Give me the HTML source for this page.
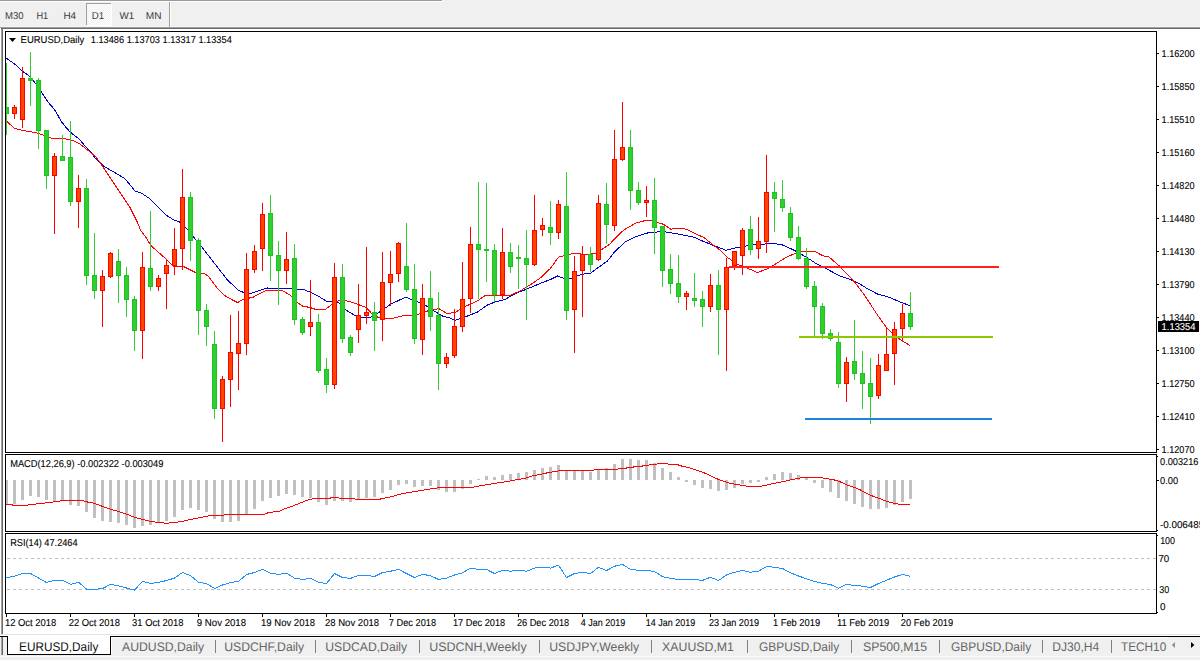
<!DOCTYPE html><html><head><meta charset="utf-8"><style>html,body{margin:0;padding:0;background:#f0f0f0;overflow:hidden;}svg{display:block;}text{text-rendering:geometricPrecision;}</style></head><body><svg width="1200" height="660" viewBox="0 0 1200 660" shape-rendering="crispEdges" font-family='"Liberation Sans", sans-serif'>
<defs><clipPath id="cm"><rect x="6" y="32" width="1150" height="420"/></clipPath><clipPath id="cd"><rect x="6" y="455" width="1150" height="76"/></clipPath><clipPath id="cr"><rect x="6" y="534" width="1150" height="79"/></clipPath><pattern id="dith" width="2" height="2" patternUnits="userSpaceOnUse"><rect width="2" height="2" fill="#f0f0f0"/><rect width="1" height="1" fill="#ffffff"/><rect x="1" y="1" width="1" height="1" fill="#ffffff"/></pattern></defs>
<rect x="0" y="0" width="1200" height="660" fill="#f0f0f0"/>
<rect x="0" y="0" width="442" height="1" fill="#9a9a9a"/>
<rect x="0" y="1" width="443" height="1" fill="#ffffff"/>
<rect x="442" y="0" width="1" height="2" fill="#ffffff"/>
<rect x="0" y="26" width="1200" height="1" fill="#f5f5f5"/>
<rect x="86" y="3" width="26" height="23" fill="#ffffff"/>
<rect x="87" y="4" width="24" height="21" fill="url(#dith)"/>
<rect x="86" y="3" width="25" height="1" fill="#a0a0a0"/>
<rect x="86" y="3" width="1" height="22" fill="#a0a0a0"/>
<rect x="169" y="2" width="1" height="25" fill="#a0a0a0"/>
<rect x="170" y="2" width="1" height="25" fill="#ffffff"/>
<rect x="0" y="27" width="1200" height="1" fill="#a0a0a0"/>
<rect x="1" y="27" width="1" height="607" fill="#a0a0a0"/>
<rect x="1" y="28" width="1199" height="1" fill="#696969"/>
<rect x="2" y="28" width="1" height="606" fill="#696969"/>
<rect x="3" y="29" width="1197" height="605" fill="#ffffff"/>
<rect x="0" y="28" width="1" height="606" fill="#ffffff"/>
<polyline points="5.80,58.00 8.30,59.60 12.50,62.50 16.70,65.80 21.70,70.80 25.00,73.00 30.00,76.60 36.00,84.00 42.00,93.00 48.00,102.00 54.00,109.00 56.00,112.00 61.00,121.00 64.00,125.00 70.00,132.00 76.00,136.50 80.00,140.00 85.00,146.00 90.00,151.00 95.00,158.00 103.75,166.25 112.50,171.25 118.75,175.00 125.00,178.75 131.25,186.25 135.00,191.25 141.25,193.00 148.75,198.00 153.75,202.50 166.00,215.00 173.75,220.00 179.40,221.90 186.00,228.00 193.00,236.00 195.00,239.00 201.00,246.00 215.00,264.00 227.50,280.00 238.75,290.60 243.75,292.50 250.00,293.75 262.50,289.40 267.50,288.00 275.00,288.75 284.00,288.00 290.00,288.00 296.00,289.40 304.00,289.75 310.00,292.00 317.50,295.60 326.00,301.00 332.50,301.50 339.00,303.00 346.00,310.00 355.00,315.60 362.50,317.50 371.00,317.00 378.75,312.50 386.00,307.50 391.00,304.00 397.50,301.00 406.00,297.00 411.00,299.40 419.00,302.50 426.00,305.60 434.00,311.00 442.50,316.00 450.00,318.00 455.00,320.30 462.50,318.00 470.00,315.00 477.50,312.00 487.50,305.00 495.00,302.00 505.00,299.40 515.00,293.75 526.00,289.40 542.50,282.50 550.00,279.75 557.50,276.00 562.50,278.00 570.00,278.75 577.50,275.60 585.00,273.75 591.00,273.00 597.50,268.00 607.50,261.00 614.00,252.50 625.00,242.00 635.00,237.00 647.50,233.00 657.50,232.00 660.00,231.00 669.00,232.50 680.00,234.40 695.00,237.50 702.50,241.00 712.50,245.00 720.00,248.00 726.00,250.30 735.00,248.00 742.50,247.00 749.00,245.00 755.00,244.40 762.50,244.40 770.00,243.40 776.00,243.75 782.50,245.00 791.00,248.75 797.50,252.00 806.00,257.00 817.50,264.40 827.50,269.40 840.00,276.00 850.00,279.40 857.50,282.50 867.50,288.75 877.50,294.00 890.00,297.50 900.00,302.00 910.00,305.60" fill="none" stroke="#0000cd" stroke-width="1" clip-path="url(#cm)"/>
<polyline points="6.50,121.00 14.50,128.50 21.00,130.00 28.00,131.50 36.00,132.50 44.00,135.50 51.00,138.00 64.00,138.50 70.00,140.00 74.00,141.00 80.00,144.00 85.00,148.00 90.00,152.00 96.00,157.00 100.00,162.50 110.00,177.50 120.00,192.50 130.00,207.50 137.50,222.50 141.00,231.00 145.00,236.00 151.00,245.60 166.00,259.00 174.00,267.00 182.50,266.00 195.60,272.50 205.00,274.00 208.00,276.00 218.75,290.00 223.75,295.00 232.50,300.00 237.50,302.50 243.75,299.00 252.50,297.50 265.00,291.00 268.75,290.00 282.50,290.60 290.00,295.00 297.50,302.50 302.50,306.00 310.00,307.50 317.50,310.00 326.00,309.00 332.50,303.75 338.75,300.60 345.00,300.60 351.00,302.00 358.75,304.75 366.00,307.50 372.00,313.75 377.50,317.00 385.00,318.50 393.75,318.00 405.00,315.40 411.00,315.40 420.00,313.75 427.50,311.00 434.00,309.40 439.00,308.75 447.50,313.75 456.00,312.00 462.50,307.50 470.00,304.40 478.75,300.00 486.00,295.00 494.00,296.00 502.50,295.00 509.00,296.00 520.00,291.00 530.00,285.00 541.00,277.50 550.00,268.75 558.75,257.00 565.00,255.60 572.50,253.50 579.00,253.50 585.00,255.00 596.00,253.00 601.00,250.00 610.00,244.00 612.50,241.00 623.75,230.00 636.00,223.00 645.00,220.60 650.00,220.50 657.50,222.50 663.75,224.40 671.00,229.40 675.00,228.00 682.50,228.40 687.50,229.75 696.00,234.00 704.00,237.50 712.50,244.40 721.00,251.00 727.50,257.50 737.50,264.40 748.75,268.75 757.50,272.50 767.50,268.75 775.00,264.40 785.00,258.00 796.00,253.00 802.50,251.50 815.00,251.50 822.50,255.60 829.00,257.00 839.00,265.60 847.50,274.40 855.00,282.50 865.00,296.00 877.50,315.00 886.00,327.00 892.50,333.75 899.00,338.75 902.50,341.00 910.00,345.60" fill="none" stroke="#ff0000" stroke-width="1" clip-path="url(#cm)"/>
<g clip-path="url(#cm)">
<rect x="6" y="63" width="1" height="72" fill="#32cd32"/>
<rect x="4" y="107" width="5" height="7" fill="#1ec41e"/>
<rect x="5" y="108" width="3" height="5" fill="#32cd32"/>
<rect x="14" y="105" width="1" height="14" fill="#ff0000"/>
<rect x="12" y="107" width="5" height="7" fill="#ff0000"/>
<rect x="13" y="108" width="3" height="5" fill="#ff4500"/>
<rect x="22" y="67" width="1" height="61" fill="#ff0000"/>
<rect x="20" y="78" width="5" height="42" fill="#ff0000"/>
<rect x="21" y="79" width="3" height="40" fill="#ff4500"/>
<rect x="30" y="52" width="1" height="54" fill="#32cd32"/>
<rect x="28" y="78" width="5" height="3" fill="#1ec41e"/>
<rect x="29" y="79" width="3" height="1" fill="#32cd32"/>
<rect x="38" y="78" width="1" height="71" fill="#32cd32"/>
<rect x="36" y="80" width="5" height="51" fill="#1ec41e"/>
<rect x="37" y="81" width="3" height="49" fill="#32cd32"/>
<rect x="46" y="130" width="1" height="59" fill="#32cd32"/>
<rect x="44" y="130" width="5" height="46" fill="#1ec41e"/>
<rect x="45" y="131" width="3" height="44" fill="#32cd32"/>
<rect x="54" y="153" width="1" height="81" fill="#ff0000"/>
<rect x="52" y="156" width="5" height="20" fill="#ff0000"/>
<rect x="53" y="157" width="3" height="18" fill="#ff4500"/>
<rect x="62" y="135" width="1" height="26" fill="#32cd32"/>
<rect x="60" y="156" width="5" height="5" fill="#1ec41e"/>
<rect x="61" y="157" width="3" height="3" fill="#32cd32"/>
<rect x="70" y="121" width="1" height="85" fill="#32cd32"/>
<rect x="68" y="157" width="5" height="45" fill="#1ec41e"/>
<rect x="69" y="158" width="3" height="43" fill="#32cd32"/>
<rect x="78" y="175" width="1" height="53" fill="#ff0000"/>
<rect x="76" y="188" width="5" height="14" fill="#ff0000"/>
<rect x="77" y="189" width="3" height="12" fill="#ff4500"/>
<rect x="86" y="179" width="1" height="106" fill="#32cd32"/>
<rect x="84" y="188" width="5" height="88" fill="#1ec41e"/>
<rect x="85" y="189" width="3" height="86" fill="#32cd32"/>
<rect x="94" y="233" width="1" height="66" fill="#32cd32"/>
<rect x="92" y="275" width="5" height="16" fill="#1ec41e"/>
<rect x="93" y="276" width="3" height="14" fill="#32cd32"/>
<rect x="102" y="270" width="1" height="57" fill="#ff0000"/>
<rect x="100" y="276" width="5" height="15" fill="#ff0000"/>
<rect x="101" y="277" width="3" height="13" fill="#ff4500"/>
<rect x="110" y="252" width="1" height="26" fill="#ff0000"/>
<rect x="108" y="253" width="5" height="24" fill="#ff0000"/>
<rect x="109" y="254" width="3" height="22" fill="#ff4500"/>
<rect x="118" y="249" width="1" height="54" fill="#32cd32"/>
<rect x="116" y="261" width="5" height="15" fill="#1ec41e"/>
<rect x="117" y="262" width="3" height="13" fill="#32cd32"/>
<rect x="126" y="267" width="1" height="50" fill="#32cd32"/>
<rect x="124" y="275" width="5" height="25" fill="#1ec41e"/>
<rect x="125" y="276" width="3" height="23" fill="#32cd32"/>
<rect x="134" y="296" width="1" height="55" fill="#32cd32"/>
<rect x="132" y="299" width="5" height="32" fill="#1ec41e"/>
<rect x="133" y="300" width="3" height="30" fill="#32cd32"/>
<rect x="142" y="252" width="1" height="107" fill="#ff0000"/>
<rect x="140" y="267" width="5" height="64" fill="#ff0000"/>
<rect x="141" y="268" width="3" height="62" fill="#ff4500"/>
<rect x="150" y="211" width="1" height="80" fill="#32cd32"/>
<rect x="148" y="268" width="5" height="19" fill="#1ec41e"/>
<rect x="149" y="269" width="3" height="17" fill="#32cd32"/>
<rect x="158" y="275" width="1" height="16" fill="#ff0000"/>
<rect x="156" y="278" width="5" height="9" fill="#ff0000"/>
<rect x="157" y="279" width="3" height="7" fill="#ff4500"/>
<rect x="166" y="259" width="1" height="50" fill="#ff0000"/>
<rect x="164" y="265" width="5" height="9" fill="#ff0000"/>
<rect x="165" y="266" width="3" height="7" fill="#ff4500"/>
<rect x="174" y="228" width="1" height="47" fill="#ff0000"/>
<rect x="172" y="249" width="5" height="17" fill="#ff0000"/>
<rect x="173" y="250" width="3" height="15" fill="#ff4500"/>
<rect x="182" y="169" width="1" height="101" fill="#ff0000"/>
<rect x="180" y="197" width="5" height="52" fill="#ff0000"/>
<rect x="181" y="198" width="3" height="50" fill="#ff4500"/>
<rect x="190" y="192" width="1" height="69" fill="#32cd32"/>
<rect x="188" y="197" width="5" height="44" fill="#1ec41e"/>
<rect x="189" y="198" width="3" height="42" fill="#32cd32"/>
<rect x="198" y="238" width="1" height="97" fill="#32cd32"/>
<rect x="196" y="240" width="5" height="71" fill="#1ec41e"/>
<rect x="197" y="241" width="3" height="69" fill="#32cd32"/>
<rect x="206" y="304" width="1" height="42" fill="#32cd32"/>
<rect x="204" y="310" width="5" height="17" fill="#1ec41e"/>
<rect x="205" y="311" width="3" height="15" fill="#32cd32"/>
<rect x="214" y="331" width="1" height="88" fill="#32cd32"/>
<rect x="212" y="344" width="5" height="65" fill="#1ec41e"/>
<rect x="213" y="345" width="3" height="63" fill="#32cd32"/>
<rect x="222" y="376" width="1" height="66" fill="#ff0000"/>
<rect x="220" y="379" width="5" height="30" fill="#ff0000"/>
<rect x="221" y="380" width="3" height="28" fill="#ff4500"/>
<rect x="230" y="315" width="1" height="92" fill="#ff0000"/>
<rect x="228" y="352" width="5" height="28" fill="#ff0000"/>
<rect x="229" y="353" width="3" height="26" fill="#ff4500"/>
<rect x="238" y="311" width="1" height="79" fill="#ff0000"/>
<rect x="236" y="343" width="5" height="11" fill="#ff0000"/>
<rect x="237" y="344" width="3" height="9" fill="#ff4500"/>
<rect x="246" y="253" width="1" height="102" fill="#ff0000"/>
<rect x="244" y="269" width="5" height="75" fill="#ff0000"/>
<rect x="245" y="270" width="3" height="73" fill="#ff4500"/>
<rect x="254" y="245" width="1" height="28" fill="#ff0000"/>
<rect x="252" y="251" width="5" height="19" fill="#ff0000"/>
<rect x="253" y="252" width="3" height="17" fill="#ff4500"/>
<rect x="262" y="203" width="1" height="68" fill="#ff0000"/>
<rect x="260" y="214" width="5" height="35" fill="#ff0000"/>
<rect x="261" y="215" width="3" height="33" fill="#ff4500"/>
<rect x="270" y="195" width="1" height="86" fill="#32cd32"/>
<rect x="268" y="213" width="5" height="43" fill="#1ec41e"/>
<rect x="269" y="214" width="3" height="41" fill="#32cd32"/>
<rect x="278" y="241" width="1" height="64" fill="#32cd32"/>
<rect x="276" y="255" width="5" height="16" fill="#1ec41e"/>
<rect x="277" y="256" width="3" height="14" fill="#32cd32"/>
<rect x="286" y="232" width="1" height="52" fill="#ff0000"/>
<rect x="284" y="259" width="5" height="12" fill="#ff0000"/>
<rect x="285" y="260" width="3" height="10" fill="#ff4500"/>
<rect x="294" y="244" width="1" height="81" fill="#32cd32"/>
<rect x="292" y="258" width="5" height="62" fill="#1ec41e"/>
<rect x="293" y="259" width="3" height="60" fill="#32cd32"/>
<rect x="302" y="317" width="1" height="18" fill="#32cd32"/>
<rect x="300" y="319" width="5" height="14" fill="#1ec41e"/>
<rect x="301" y="320" width="3" height="12" fill="#32cd32"/>
<rect x="310" y="280" width="1" height="56" fill="#ff0000"/>
<rect x="308" y="322" width="5" height="5" fill="#ff0000"/>
<rect x="309" y="323" width="3" height="3" fill="#ff4500"/>
<rect x="318" y="314" width="1" height="59" fill="#32cd32"/>
<rect x="316" y="322" width="5" height="49" fill="#1ec41e"/>
<rect x="317" y="323" width="3" height="47" fill="#32cd32"/>
<rect x="326" y="358" width="1" height="35" fill="#32cd32"/>
<rect x="324" y="369" width="5" height="16" fill="#1ec41e"/>
<rect x="325" y="370" width="3" height="14" fill="#32cd32"/>
<rect x="334" y="263" width="1" height="126" fill="#ff0000"/>
<rect x="332" y="277" width="5" height="108" fill="#ff0000"/>
<rect x="333" y="278" width="3" height="106" fill="#ff4500"/>
<rect x="342" y="264" width="1" height="79" fill="#32cd32"/>
<rect x="340" y="277" width="5" height="62" fill="#1ec41e"/>
<rect x="341" y="278" width="3" height="60" fill="#32cd32"/>
<rect x="350" y="335" width="1" height="21" fill="#32cd32"/>
<rect x="348" y="337" width="5" height="16" fill="#1ec41e"/>
<rect x="349" y="338" width="3" height="14" fill="#32cd32"/>
<rect x="358" y="284" width="1" height="59" fill="#ff0000"/>
<rect x="356" y="315" width="5" height="15" fill="#ff0000"/>
<rect x="357" y="316" width="3" height="13" fill="#ff4500"/>
<rect x="366" y="247" width="1" height="77" fill="#ff0000"/>
<rect x="364" y="312" width="5" height="4" fill="#ff0000"/>
<rect x="365" y="313" width="3" height="2" fill="#ff4500"/>
<rect x="374" y="302" width="1" height="49" fill="#32cd32"/>
<rect x="372" y="312" width="5" height="9" fill="#1ec41e"/>
<rect x="373" y="313" width="3" height="7" fill="#32cd32"/>
<rect x="382" y="252" width="1" height="89" fill="#ff0000"/>
<rect x="380" y="282" width="5" height="38" fill="#ff0000"/>
<rect x="381" y="283" width="3" height="36" fill="#ff4500"/>
<rect x="390" y="251" width="1" height="55" fill="#ff0000"/>
<rect x="388" y="274" width="5" height="9" fill="#ff0000"/>
<rect x="389" y="275" width="3" height="7" fill="#ff4500"/>
<rect x="398" y="242" width="1" height="40" fill="#ff0000"/>
<rect x="396" y="243" width="5" height="31" fill="#ff0000"/>
<rect x="397" y="244" width="3" height="29" fill="#ff4500"/>
<rect x="406" y="223" width="1" height="69" fill="#32cd32"/>
<rect x="404" y="266" width="5" height="24" fill="#1ec41e"/>
<rect x="405" y="267" width="3" height="22" fill="#32cd32"/>
<rect x="414" y="264" width="1" height="80" fill="#32cd32"/>
<rect x="412" y="289" width="5" height="50" fill="#1ec41e"/>
<rect x="413" y="290" width="3" height="48" fill="#32cd32"/>
<rect x="422" y="284" width="1" height="71" fill="#ff0000"/>
<rect x="420" y="298" width="5" height="42" fill="#ff0000"/>
<rect x="421" y="299" width="3" height="40" fill="#ff4500"/>
<rect x="430" y="271" width="1" height="60" fill="#32cd32"/>
<rect x="428" y="298" width="5" height="19" fill="#1ec41e"/>
<rect x="429" y="299" width="3" height="17" fill="#32cd32"/>
<rect x="438" y="292" width="1" height="98" fill="#32cd32"/>
<rect x="436" y="315" width="5" height="49" fill="#1ec41e"/>
<rect x="437" y="316" width="3" height="47" fill="#32cd32"/>
<rect x="446" y="353" width="1" height="15" fill="#ff0000"/>
<rect x="444" y="357" width="5" height="7" fill="#ff0000"/>
<rect x="445" y="358" width="3" height="5" fill="#ff4500"/>
<rect x="454" y="309" width="1" height="49" fill="#ff0000"/>
<rect x="452" y="326" width="5" height="30" fill="#ff0000"/>
<rect x="453" y="327" width="3" height="28" fill="#ff4500"/>
<rect x="462" y="262" width="1" height="70" fill="#ff0000"/>
<rect x="460" y="299" width="5" height="28" fill="#ff0000"/>
<rect x="461" y="300" width="3" height="26" fill="#ff4500"/>
<rect x="470" y="227" width="1" height="86" fill="#ff0000"/>
<rect x="468" y="244" width="5" height="55" fill="#ff0000"/>
<rect x="469" y="245" width="3" height="53" fill="#ff4500"/>
<rect x="478" y="182" width="1" height="117" fill="#32cd32"/>
<rect x="476" y="244" width="5" height="6" fill="#1ec41e"/>
<rect x="477" y="245" width="3" height="4" fill="#32cd32"/>
<rect x="486" y="183" width="1" height="99" fill="#32cd32"/>
<rect x="484" y="249" width="5" height="2" fill="#1ec41e"/>
<rect x="494" y="244" width="1" height="58" fill="#32cd32"/>
<rect x="492" y="250" width="5" height="45" fill="#1ec41e"/>
<rect x="493" y="251" width="3" height="43" fill="#32cd32"/>
<rect x="502" y="228" width="1" height="71" fill="#ff0000"/>
<rect x="500" y="252" width="5" height="43" fill="#ff0000"/>
<rect x="501" y="253" width="3" height="41" fill="#ff4500"/>
<rect x="510" y="243" width="1" height="30" fill="#32cd32"/>
<rect x="508" y="252" width="5" height="15" fill="#1ec41e"/>
<rect x="509" y="253" width="3" height="13" fill="#32cd32"/>
<rect x="518" y="245" width="1" height="44" fill="#32cd32"/>
<rect x="516" y="257" width="5" height="2" fill="#1ec41e"/>
<rect x="526" y="230" width="1" height="90" fill="#32cd32"/>
<rect x="524" y="258" width="5" height="7" fill="#1ec41e"/>
<rect x="525" y="259" width="3" height="5" fill="#32cd32"/>
<rect x="534" y="195" width="1" height="71" fill="#ff0000"/>
<rect x="532" y="230" width="5" height="35" fill="#ff0000"/>
<rect x="533" y="231" width="3" height="33" fill="#ff4500"/>
<rect x="542" y="218" width="1" height="18" fill="#ff0000"/>
<rect x="540" y="225" width="5" height="5" fill="#ff0000"/>
<rect x="541" y="226" width="3" height="3" fill="#ff4500"/>
<rect x="550" y="201" width="1" height="44" fill="#32cd32"/>
<rect x="548" y="227" width="5" height="6" fill="#1ec41e"/>
<rect x="549" y="228" width="3" height="4" fill="#32cd32"/>
<rect x="558" y="200" width="1" height="39" fill="#ff0000"/>
<rect x="556" y="204" width="5" height="29" fill="#ff0000"/>
<rect x="557" y="205" width="3" height="27" fill="#ff4500"/>
<rect x="566" y="172" width="1" height="148" fill="#32cd32"/>
<rect x="564" y="206" width="5" height="105" fill="#1ec41e"/>
<rect x="565" y="207" width="3" height="103" fill="#32cd32"/>
<rect x="574" y="256" width="1" height="97" fill="#ff0000"/>
<rect x="572" y="271" width="5" height="39" fill="#ff0000"/>
<rect x="573" y="272" width="3" height="37" fill="#ff4500"/>
<rect x="582" y="246" width="1" height="71" fill="#ff0000"/>
<rect x="580" y="254" width="5" height="17" fill="#ff0000"/>
<rect x="581" y="255" width="3" height="15" fill="#ff4500"/>
<rect x="590" y="247" width="1" height="25" fill="#32cd32"/>
<rect x="588" y="254" width="5" height="11" fill="#1ec41e"/>
<rect x="589" y="255" width="3" height="9" fill="#32cd32"/>
<rect x="598" y="195" width="1" height="66" fill="#ff0000"/>
<rect x="596" y="203" width="5" height="57" fill="#ff0000"/>
<rect x="597" y="204" width="3" height="55" fill="#ff4500"/>
<rect x="606" y="183" width="1" height="61" fill="#32cd32"/>
<rect x="604" y="204" width="5" height="21" fill="#1ec41e"/>
<rect x="605" y="205" width="3" height="19" fill="#32cd32"/>
<rect x="614" y="130" width="1" height="101" fill="#ff0000"/>
<rect x="612" y="159" width="5" height="67" fill="#ff0000"/>
<rect x="613" y="160" width="3" height="65" fill="#ff4500"/>
<rect x="622" y="102" width="1" height="59" fill="#ff0000"/>
<rect x="620" y="147" width="5" height="13" fill="#ff0000"/>
<rect x="621" y="148" width="3" height="11" fill="#ff4500"/>
<rect x="630" y="130" width="1" height="80" fill="#32cd32"/>
<rect x="628" y="147" width="5" height="44" fill="#1ec41e"/>
<rect x="629" y="148" width="3" height="42" fill="#32cd32"/>
<rect x="638" y="182" width="1" height="23" fill="#32cd32"/>
<rect x="636" y="190" width="5" height="13" fill="#1ec41e"/>
<rect x="637" y="191" width="3" height="11" fill="#32cd32"/>
<rect x="646" y="186" width="1" height="31" fill="#ff0000"/>
<rect x="644" y="200" width="5" height="3" fill="#ff0000"/>
<rect x="645" y="201" width="3" height="1" fill="#ff4500"/>
<rect x="654" y="178" width="1" height="76" fill="#32cd32"/>
<rect x="652" y="200" width="5" height="28" fill="#1ec41e"/>
<rect x="653" y="201" width="3" height="26" fill="#32cd32"/>
<rect x="662" y="226" width="1" height="61" fill="#32cd32"/>
<rect x="660" y="226" width="5" height="45" fill="#1ec41e"/>
<rect x="661" y="227" width="3" height="43" fill="#32cd32"/>
<rect x="670" y="254" width="1" height="40" fill="#32cd32"/>
<rect x="668" y="269" width="5" height="15" fill="#1ec41e"/>
<rect x="669" y="270" width="3" height="13" fill="#32cd32"/>
<rect x="678" y="255" width="1" height="48" fill="#32cd32"/>
<rect x="676" y="283" width="5" height="14" fill="#1ec41e"/>
<rect x="677" y="284" width="3" height="12" fill="#32cd32"/>
<rect x="686" y="291" width="1" height="19" fill="#ff0000"/>
<rect x="684" y="293" width="5" height="4" fill="#ff0000"/>
<rect x="685" y="294" width="3" height="2" fill="#ff4500"/>
<rect x="694" y="273" width="1" height="34" fill="#32cd32"/>
<rect x="692" y="298" width="5" height="3" fill="#1ec41e"/>
<rect x="693" y="299" width="3" height="1" fill="#32cd32"/>
<rect x="702" y="291" width="1" height="36" fill="#32cd32"/>
<rect x="700" y="299" width="5" height="8" fill="#1ec41e"/>
<rect x="701" y="300" width="3" height="6" fill="#32cd32"/>
<rect x="710" y="274" width="1" height="38" fill="#ff0000"/>
<rect x="708" y="285" width="5" height="22" fill="#ff0000"/>
<rect x="709" y="286" width="3" height="20" fill="#ff4500"/>
<rect x="718" y="270" width="1" height="85" fill="#32cd32"/>
<rect x="716" y="285" width="5" height="25" fill="#1ec41e"/>
<rect x="717" y="286" width="3" height="23" fill="#32cd32"/>
<rect x="726" y="258" width="1" height="113" fill="#ff0000"/>
<rect x="724" y="267" width="5" height="43" fill="#ff0000"/>
<rect x="725" y="268" width="3" height="41" fill="#ff4500"/>
<rect x="734" y="251" width="1" height="19" fill="#ff0000"/>
<rect x="732" y="251" width="5" height="15" fill="#ff0000"/>
<rect x="733" y="252" width="3" height="13" fill="#ff4500"/>
<rect x="742" y="228" width="1" height="47" fill="#ff0000"/>
<rect x="740" y="230" width="5" height="26" fill="#ff0000"/>
<rect x="741" y="231" width="3" height="24" fill="#ff4500"/>
<rect x="750" y="216" width="1" height="39" fill="#32cd32"/>
<rect x="748" y="229" width="5" height="21" fill="#1ec41e"/>
<rect x="749" y="230" width="3" height="19" fill="#32cd32"/>
<rect x="758" y="217" width="1" height="42" fill="#ff0000"/>
<rect x="756" y="241" width="5" height="8" fill="#ff0000"/>
<rect x="757" y="242" width="3" height="6" fill="#ff4500"/>
<rect x="766" y="155" width="1" height="98" fill="#ff0000"/>
<rect x="764" y="192" width="5" height="50" fill="#ff0000"/>
<rect x="765" y="193" width="3" height="48" fill="#ff4500"/>
<rect x="774" y="182" width="1" height="50" fill="#32cd32"/>
<rect x="772" y="192" width="5" height="7" fill="#1ec41e"/>
<rect x="773" y="193" width="3" height="5" fill="#32cd32"/>
<rect x="782" y="180" width="1" height="32" fill="#32cd32"/>
<rect x="780" y="199" width="5" height="9" fill="#1ec41e"/>
<rect x="781" y="200" width="3" height="7" fill="#32cd32"/>
<rect x="790" y="207" width="1" height="34" fill="#32cd32"/>
<rect x="788" y="213" width="5" height="25" fill="#1ec41e"/>
<rect x="789" y="214" width="3" height="23" fill="#32cd32"/>
<rect x="798" y="226" width="1" height="34" fill="#32cd32"/>
<rect x="796" y="237" width="5" height="22" fill="#1ec41e"/>
<rect x="797" y="238" width="3" height="20" fill="#32cd32"/>
<rect x="806" y="248" width="1" height="41" fill="#32cd32"/>
<rect x="804" y="258" width="5" height="29" fill="#1ec41e"/>
<rect x="805" y="259" width="3" height="27" fill="#32cd32"/>
<rect x="814" y="281" width="1" height="55" fill="#32cd32"/>
<rect x="812" y="286" width="5" height="21" fill="#1ec41e"/>
<rect x="813" y="287" width="3" height="19" fill="#32cd32"/>
<rect x="822" y="303" width="1" height="36" fill="#32cd32"/>
<rect x="820" y="306" width="5" height="28" fill="#1ec41e"/>
<rect x="821" y="307" width="3" height="26" fill="#32cd32"/>
<rect x="830" y="329" width="1" height="12" fill="#32cd32"/>
<rect x="828" y="333" width="5" height="6" fill="#1ec41e"/>
<rect x="829" y="334" width="3" height="4" fill="#32cd32"/>
<rect x="838" y="332" width="1" height="56" fill="#32cd32"/>
<rect x="836" y="342" width="5" height="42" fill="#1ec41e"/>
<rect x="837" y="343" width="3" height="40" fill="#32cd32"/>
<rect x="846" y="357" width="1" height="45" fill="#ff0000"/>
<rect x="844" y="362" width="5" height="22" fill="#ff0000"/>
<rect x="845" y="363" width="3" height="20" fill="#ff4500"/>
<rect x="854" y="320" width="1" height="60" fill="#32cd32"/>
<rect x="852" y="361" width="5" height="13" fill="#1ec41e"/>
<rect x="853" y="362" width="3" height="11" fill="#32cd32"/>
<rect x="862" y="351" width="1" height="58" fill="#32cd32"/>
<rect x="860" y="373" width="5" height="11" fill="#1ec41e"/>
<rect x="861" y="374" width="3" height="9" fill="#32cd32"/>
<rect x="870" y="358" width="1" height="66" fill="#32cd32"/>
<rect x="868" y="383" width="5" height="14" fill="#1ec41e"/>
<rect x="869" y="384" width="3" height="12" fill="#32cd32"/>
<rect x="878" y="354" width="1" height="45" fill="#ff0000"/>
<rect x="876" y="365" width="5" height="31" fill="#ff0000"/>
<rect x="877" y="366" width="3" height="29" fill="#ff4500"/>
<rect x="886" y="328" width="1" height="43" fill="#ff0000"/>
<rect x="884" y="354" width="5" height="17" fill="#ff0000"/>
<rect x="885" y="355" width="3" height="15" fill="#ff4500"/>
<rect x="894" y="322" width="1" height="63" fill="#ff0000"/>
<rect x="892" y="329" width="5" height="25" fill="#ff0000"/>
<rect x="893" y="330" width="3" height="23" fill="#ff4500"/>
<rect x="902" y="304" width="1" height="37" fill="#ff0000"/>
<rect x="900" y="313" width="5" height="16" fill="#ff0000"/>
<rect x="901" y="314" width="3" height="14" fill="#ff4500"/>
<rect x="910" y="292" width="1" height="38" fill="#32cd32"/>
<rect x="908" y="313" width="5" height="14" fill="#1ec41e"/>
<rect x="909" y="314" width="3" height="12" fill="#32cd32"/>
</g>
<rect x="729" y="266" width="270" height="2" fill="#ff2020"/>
<rect x="799" y="336" width="194" height="2" fill="#8cc800"/>
<rect x="805" y="418" width="187" height="2" fill="#2082dc"/>
<rect x="5" y="31" width="1152" height="1" fill="#000"/>
<rect x="5" y="452" width="1152" height="1" fill="#000"/>
<rect x="5" y="31" width="1" height="422" fill="#000"/>
<rect x="1156" y="31" width="1" height="422" fill="#000"/>
<path d="M9,38 L16,38 L12.5,42 Z" fill="#000" shape-rendering="auto"/>
<rect x="1157" y="53" width="2" height="1" fill="#000"/>
<rect x="1157" y="86" width="2" height="1" fill="#000"/>
<rect x="1157" y="119" width="2" height="1" fill="#000"/>
<rect x="1157" y="152" width="2" height="1" fill="#000"/>
<rect x="1157" y="185" width="2" height="1" fill="#000"/>
<rect x="1157" y="218" width="2" height="1" fill="#000"/>
<rect x="1157" y="251" width="2" height="1" fill="#000"/>
<rect x="1157" y="284" width="2" height="1" fill="#000"/>
<rect x="1157" y="317" width="2" height="1" fill="#000"/>
<rect x="1157" y="350" width="2" height="1" fill="#000"/>
<rect x="1157" y="383" width="2" height="1" fill="#000"/>
<rect x="1157" y="416" width="2" height="1" fill="#000"/>
<rect x="1157" y="449" width="2" height="1" fill="#000"/>
<rect x="1158" y="321" width="41" height="11" fill="#000"/>
<rect x="5" y="454" width="1152" height="1" fill="#000"/>
<rect x="5" y="531" width="1152" height="1" fill="#000"/>
<rect x="5" y="454" width="1" height="78" fill="#000"/>
<rect x="1156" y="454" width="1" height="78" fill="#000"/>
<g clip-path="url(#cd)">
<rect x="5" y="480" width="3" height="25" fill="#c0c0c0"/>
<rect x="13" y="480" width="3" height="24" fill="#c0c0c0"/>
<rect x="21" y="480" width="3" height="20" fill="#c0c0c0"/>
<rect x="29" y="480" width="3" height="16" fill="#c0c0c0"/>
<rect x="37" y="480" width="3" height="17" fill="#c0c0c0"/>
<rect x="45" y="480" width="3" height="20" fill="#c0c0c0"/>
<rect x="53" y="480" width="3" height="21" fill="#c0c0c0"/>
<rect x="61" y="480" width="3" height="21" fill="#c0c0c0"/>
<rect x="69" y="480" width="3" height="25" fill="#c0c0c0"/>
<rect x="77" y="480" width="3" height="26" fill="#c0c0c0"/>
<rect x="85" y="480" width="3" height="32" fill="#c0c0c0"/>
<rect x="93" y="480" width="3" height="38" fill="#c0c0c0"/>
<rect x="101" y="480" width="3" height="41" fill="#c0c0c0"/>
<rect x="109" y="480" width="3" height="42" fill="#c0c0c0"/>
<rect x="117" y="480" width="3" height="43" fill="#c0c0c0"/>
<rect x="125" y="480" width="3" height="45" fill="#c0c0c0"/>
<rect x="133" y="480" width="3" height="48" fill="#c0c0c0"/>
<rect x="141" y="480" width="3" height="46" fill="#c0c0c0"/>
<rect x="149" y="480" width="3" height="45" fill="#c0c0c0"/>
<rect x="157" y="480" width="3" height="42" fill="#c0c0c0"/>
<rect x="165" y="480" width="3" height="41" fill="#c0c0c0"/>
<rect x="173" y="480" width="3" height="37" fill="#c0c0c0"/>
<rect x="181" y="480" width="3" height="30" fill="#c0c0c0"/>
<rect x="189" y="480" width="3" height="28" fill="#c0c0c0"/>
<rect x="197" y="480" width="3" height="30" fill="#c0c0c0"/>
<rect x="205" y="480" width="3" height="32" fill="#c0c0c0"/>
<rect x="213" y="480" width="3" height="39" fill="#c0c0c0"/>
<rect x="221" y="480" width="3" height="42" fill="#c0c0c0"/>
<rect x="229" y="480" width="3" height="42" fill="#c0c0c0"/>
<rect x="237" y="480" width="3" height="41" fill="#c0c0c0"/>
<rect x="245" y="480" width="3" height="34" fill="#c0c0c0"/>
<rect x="253" y="480" width="3" height="29" fill="#c0c0c0"/>
<rect x="261" y="480" width="3" height="21" fill="#c0c0c0"/>
<rect x="269" y="480" width="3" height="18" fill="#c0c0c0"/>
<rect x="277" y="480" width="3" height="16" fill="#c0c0c0"/>
<rect x="285" y="480" width="3" height="14" fill="#c0c0c0"/>
<rect x="293" y="480" width="3" height="15" fill="#c0c0c0"/>
<rect x="301" y="480" width="3" height="17" fill="#c0c0c0"/>
<rect x="309" y="480" width="3" height="18" fill="#c0c0c0"/>
<rect x="317" y="480" width="3" height="22" fill="#c0c0c0"/>
<rect x="325" y="480" width="3" height="25" fill="#c0c0c0"/>
<rect x="333" y="480" width="3" height="21" fill="#c0c0c0"/>
<rect x="341" y="480" width="3" height="21" fill="#c0c0c0"/>
<rect x="349" y="480" width="3" height="22" fill="#c0c0c0"/>
<rect x="357" y="480" width="3" height="19" fill="#c0c0c0"/>
<rect x="365" y="480" width="3" height="18" fill="#c0c0c0"/>
<rect x="373" y="480" width="3" height="17" fill="#c0c0c0"/>
<rect x="381" y="480" width="3" height="13" fill="#c0c0c0"/>
<rect x="389" y="480" width="3" height="10" fill="#c0c0c0"/>
<rect x="397" y="480" width="3" height="5" fill="#c0c0c0"/>
<rect x="405" y="480" width="3" height="4" fill="#c0c0c0"/>
<rect x="413" y="480" width="3" height="7" fill="#c0c0c0"/>
<rect x="421" y="480" width="3" height="6" fill="#c0c0c0"/>
<rect x="429" y="480" width="3" height="6" fill="#c0c0c0"/>
<rect x="437" y="480" width="3" height="10" fill="#c0c0c0"/>
<rect x="445" y="480" width="3" height="12" fill="#c0c0c0"/>
<rect x="453" y="480" width="3" height="12" fill="#c0c0c0"/>
<rect x="461" y="480" width="3" height="9" fill="#c0c0c0"/>
<rect x="469" y="480" width="3" height="4" fill="#c0c0c0"/>
<rect x="477" y="479" width="3" height="1" fill="#c0c0c0"/>
<rect x="485" y="476" width="3" height="4" fill="#c0c0c0"/>
<rect x="493" y="477" width="3" height="3" fill="#c0c0c0"/>
<rect x="501" y="475" width="3" height="5" fill="#c0c0c0"/>
<rect x="509" y="474" width="3" height="6" fill="#c0c0c0"/>
<rect x="517" y="473" width="3" height="7" fill="#c0c0c0"/>
<rect x="525" y="472" width="3" height="8" fill="#c0c0c0"/>
<rect x="533" y="470" width="3" height="10" fill="#c0c0c0"/>
<rect x="541" y="468" width="3" height="12" fill="#c0c0c0"/>
<rect x="549" y="467" width="3" height="13" fill="#c0c0c0"/>
<rect x="557" y="465" width="3" height="15" fill="#c0c0c0"/>
<rect x="565" y="471" width="3" height="9" fill="#c0c0c0"/>
<rect x="573" y="471" width="3" height="9" fill="#c0c0c0"/>
<rect x="581" y="471" width="3" height="9" fill="#c0c0c0"/>
<rect x="589" y="472" width="3" height="8" fill="#c0c0c0"/>
<rect x="597" y="470" width="3" height="10" fill="#c0c0c0"/>
<rect x="605" y="468" width="3" height="12" fill="#c0c0c0"/>
<rect x="613" y="464" width="3" height="16" fill="#c0c0c0"/>
<rect x="621" y="459" width="3" height="21" fill="#c0c0c0"/>
<rect x="629" y="459" width="3" height="21" fill="#c0c0c0"/>
<rect x="637" y="460" width="3" height="20" fill="#c0c0c0"/>
<rect x="645" y="460" width="3" height="20" fill="#c0c0c0"/>
<rect x="653" y="463" width="3" height="17" fill="#c0c0c0"/>
<rect x="661" y="468" width="3" height="12" fill="#c0c0c0"/>
<rect x="669" y="472" width="3" height="8" fill="#c0c0c0"/>
<rect x="677" y="477" width="3" height="3" fill="#c0c0c0"/>
<rect x="685" y="480" width="3" height="2" fill="#c0c0c0"/>
<rect x="693" y="480" width="3" height="5" fill="#c0c0c0"/>
<rect x="701" y="480" width="3" height="8" fill="#c0c0c0"/>
<rect x="709" y="480" width="3" height="9" fill="#c0c0c0"/>
<rect x="717" y="480" width="3" height="11" fill="#c0c0c0"/>
<rect x="725" y="480" width="3" height="10" fill="#c0c0c0"/>
<rect x="733" y="480" width="3" height="8" fill="#c0c0c0"/>
<rect x="741" y="480" width="3" height="4" fill="#c0c0c0"/>
<rect x="749" y="480" width="3" height="3" fill="#c0c0c0"/>
<rect x="757" y="480" width="3" height="2" fill="#c0c0c0"/>
<rect x="765" y="477" width="3" height="3" fill="#c0c0c0"/>
<rect x="773" y="474" width="3" height="6" fill="#c0c0c0"/>
<rect x="781" y="472" width="3" height="8" fill="#c0c0c0"/>
<rect x="789" y="473" width="3" height="7" fill="#c0c0c0"/>
<rect x="797" y="475" width="3" height="5" fill="#c0c0c0"/>
<rect x="805" y="478" width="3" height="2" fill="#c0c0c0"/>
<rect x="813" y="480" width="3" height="3" fill="#c0c0c0"/>
<rect x="821" y="480" width="3" height="8" fill="#c0c0c0"/>
<rect x="829" y="480" width="3" height="12" fill="#c0c0c0"/>
<rect x="837" y="480" width="3" height="18" fill="#c0c0c0"/>
<rect x="845" y="480" width="3" height="21" fill="#c0c0c0"/>
<rect x="853" y="480" width="3" height="24" fill="#c0c0c0"/>
<rect x="861" y="480" width="3" height="27" fill="#c0c0c0"/>
<rect x="869" y="480" width="3" height="29" fill="#c0c0c0"/>
<rect x="877" y="480" width="3" height="29" fill="#c0c0c0"/>
<rect x="885" y="480" width="3" height="28" fill="#c0c0c0"/>
<rect x="893" y="480" width="3" height="25" fill="#c0c0c0"/>
<rect x="901" y="480" width="3" height="22" fill="#c0c0c0"/>
<rect x="909" y="480" width="3" height="19" fill="#c0c0c0"/>
</g>
<polyline points="6.25,504.30 10.80,504.75 19.00,506.00 25.80,505.30 34.00,504.30 41.70,503.30 50.00,502.50 58.30,501.20 66.70,500.40 82.50,500.40 89.00,502.50 94.40,503.25 102.50,506.40 110.00,509.00 118.75,511.60 126.25,514.00 134.40,517.25 142.50,519.50 150.40,521.25 158.50,522.50 166.50,523.25 174.40,522.50 182.50,521.25 190.40,519.50 198.50,517.90 206.50,516.25 210.60,515.40 241.50,514.50 263.40,514.50 269.00,512.50 279.00,511.40 284.00,509.00 292.75,506.00 301.50,502.50 309.00,499.50 315.00,498.50 329.00,498.50 332.75,497.25 337.75,497.25 340.00,498.50 354.00,498.50 356.50,499.40 378.00,499.50 384.25,498.25 391.75,496.60 400.50,494.10 410.50,492.25 418.00,491.00 426.75,489.50 435.50,488.25 443.00,487.25 473.00,487.25 478.00,486.25 483.00,485.40 490.50,484.10 498.00,482.90 506.75,481.60 515.50,480.00 524.25,478.50 532.00,476.00 539.50,474.50 547.00,472.90 554.50,471.60 562.00,470.40 593.25,470.40 594.50,469.40 617.00,469.40 619.50,468.50 625.75,468.50 627.00,467.50 633.25,467.25 634.50,466.25 642.00,466.25 643.25,465.40 649.50,465.00 652.00,464.40 657.00,464.10 659.50,463.50 665.75,463.50 671.00,464.50 678.50,465.00 682.25,466.25 688.50,467.50 694.75,469.50 702.25,472.00 708.50,474.75 713.50,477.25 718.50,479.50 724.75,481.60 731.00,483.50 738.50,484.75 747.25,486.25 761.00,486.25 767.25,485.00 773.50,483.50 783.50,481.60 791.00,479.75 798.50,478.25 803.50,477.40 818.75,477.50 826.25,478.50 832.50,479.50 837.50,480.75 842.50,482.90 846.25,484.75 853.75,487.25 860.00,489.75 867.50,493.75 872.50,496.00 880.00,498.75 886.25,501.25 893.75,503.10 898.75,504.10 910.00,504.50" fill="none" stroke="#ff0000" stroke-width="1" clip-path="url(#cd)"/>
<rect x="1157" y="456" width="1" height="1" fill="#000"/>
<rect x="1157" y="480" width="2" height="1" fill="#000"/>
<rect x="1157" y="530" width="1" height="1" fill="#000"/>
<rect x="5" y="533" width="1152" height="1" fill="#000"/>
<rect x="5" y="613" width="1152" height="1" fill="#000"/>
<rect x="5" y="533" width="1" height="81" fill="#000"/>
<rect x="1156" y="533" width="1" height="81" fill="#000"/>
<rect x="7" y="558" width="3" height="1" fill="#c0c0c0"/>
<rect x="13" y="558" width="3" height="1" fill="#c0c0c0"/>
<rect x="19" y="558" width="3" height="1" fill="#c0c0c0"/>
<rect x="25" y="558" width="3" height="1" fill="#c0c0c0"/>
<rect x="31" y="558" width="3" height="1" fill="#c0c0c0"/>
<rect x="37" y="558" width="3" height="1" fill="#c0c0c0"/>
<rect x="43" y="558" width="3" height="1" fill="#c0c0c0"/>
<rect x="49" y="558" width="3" height="1" fill="#c0c0c0"/>
<rect x="55" y="558" width="3" height="1" fill="#c0c0c0"/>
<rect x="61" y="558" width="3" height="1" fill="#c0c0c0"/>
<rect x="67" y="558" width="3" height="1" fill="#c0c0c0"/>
<rect x="73" y="558" width="3" height="1" fill="#c0c0c0"/>
<rect x="79" y="558" width="3" height="1" fill="#c0c0c0"/>
<rect x="85" y="558" width="3" height="1" fill="#c0c0c0"/>
<rect x="91" y="558" width="3" height="1" fill="#c0c0c0"/>
<rect x="97" y="558" width="3" height="1" fill="#c0c0c0"/>
<rect x="103" y="558" width="3" height="1" fill="#c0c0c0"/>
<rect x="109" y="558" width="3" height="1" fill="#c0c0c0"/>
<rect x="115" y="558" width="3" height="1" fill="#c0c0c0"/>
<rect x="121" y="558" width="3" height="1" fill="#c0c0c0"/>
<rect x="127" y="558" width="3" height="1" fill="#c0c0c0"/>
<rect x="133" y="558" width="3" height="1" fill="#c0c0c0"/>
<rect x="139" y="558" width="3" height="1" fill="#c0c0c0"/>
<rect x="145" y="558" width="3" height="1" fill="#c0c0c0"/>
<rect x="151" y="558" width="3" height="1" fill="#c0c0c0"/>
<rect x="157" y="558" width="3" height="1" fill="#c0c0c0"/>
<rect x="163" y="558" width="3" height="1" fill="#c0c0c0"/>
<rect x="169" y="558" width="3" height="1" fill="#c0c0c0"/>
<rect x="175" y="558" width="3" height="1" fill="#c0c0c0"/>
<rect x="181" y="558" width="3" height="1" fill="#c0c0c0"/>
<rect x="187" y="558" width="3" height="1" fill="#c0c0c0"/>
<rect x="193" y="558" width="3" height="1" fill="#c0c0c0"/>
<rect x="199" y="558" width="3" height="1" fill="#c0c0c0"/>
<rect x="205" y="558" width="3" height="1" fill="#c0c0c0"/>
<rect x="211" y="558" width="3" height="1" fill="#c0c0c0"/>
<rect x="217" y="558" width="3" height="1" fill="#c0c0c0"/>
<rect x="223" y="558" width="3" height="1" fill="#c0c0c0"/>
<rect x="229" y="558" width="3" height="1" fill="#c0c0c0"/>
<rect x="235" y="558" width="3" height="1" fill="#c0c0c0"/>
<rect x="241" y="558" width="3" height="1" fill="#c0c0c0"/>
<rect x="247" y="558" width="3" height="1" fill="#c0c0c0"/>
<rect x="253" y="558" width="3" height="1" fill="#c0c0c0"/>
<rect x="259" y="558" width="3" height="1" fill="#c0c0c0"/>
<rect x="265" y="558" width="3" height="1" fill="#c0c0c0"/>
<rect x="271" y="558" width="3" height="1" fill="#c0c0c0"/>
<rect x="277" y="558" width="3" height="1" fill="#c0c0c0"/>
<rect x="283" y="558" width="3" height="1" fill="#c0c0c0"/>
<rect x="289" y="558" width="3" height="1" fill="#c0c0c0"/>
<rect x="295" y="558" width="3" height="1" fill="#c0c0c0"/>
<rect x="301" y="558" width="3" height="1" fill="#c0c0c0"/>
<rect x="307" y="558" width="3" height="1" fill="#c0c0c0"/>
<rect x="313" y="558" width="3" height="1" fill="#c0c0c0"/>
<rect x="319" y="558" width="3" height="1" fill="#c0c0c0"/>
<rect x="325" y="558" width="3" height="1" fill="#c0c0c0"/>
<rect x="331" y="558" width="3" height="1" fill="#c0c0c0"/>
<rect x="337" y="558" width="3" height="1" fill="#c0c0c0"/>
<rect x="343" y="558" width="3" height="1" fill="#c0c0c0"/>
<rect x="349" y="558" width="3" height="1" fill="#c0c0c0"/>
<rect x="355" y="558" width="3" height="1" fill="#c0c0c0"/>
<rect x="361" y="558" width="3" height="1" fill="#c0c0c0"/>
<rect x="367" y="558" width="3" height="1" fill="#c0c0c0"/>
<rect x="373" y="558" width="3" height="1" fill="#c0c0c0"/>
<rect x="379" y="558" width="3" height="1" fill="#c0c0c0"/>
<rect x="385" y="558" width="3" height="1" fill="#c0c0c0"/>
<rect x="391" y="558" width="3" height="1" fill="#c0c0c0"/>
<rect x="397" y="558" width="3" height="1" fill="#c0c0c0"/>
<rect x="403" y="558" width="3" height="1" fill="#c0c0c0"/>
<rect x="409" y="558" width="3" height="1" fill="#c0c0c0"/>
<rect x="415" y="558" width="3" height="1" fill="#c0c0c0"/>
<rect x="421" y="558" width="3" height="1" fill="#c0c0c0"/>
<rect x="427" y="558" width="3" height="1" fill="#c0c0c0"/>
<rect x="433" y="558" width="3" height="1" fill="#c0c0c0"/>
<rect x="439" y="558" width="3" height="1" fill="#c0c0c0"/>
<rect x="445" y="558" width="3" height="1" fill="#c0c0c0"/>
<rect x="451" y="558" width="3" height="1" fill="#c0c0c0"/>
<rect x="457" y="558" width="3" height="1" fill="#c0c0c0"/>
<rect x="463" y="558" width="3" height="1" fill="#c0c0c0"/>
<rect x="469" y="558" width="3" height="1" fill="#c0c0c0"/>
<rect x="475" y="558" width="3" height="1" fill="#c0c0c0"/>
<rect x="481" y="558" width="3" height="1" fill="#c0c0c0"/>
<rect x="487" y="558" width="3" height="1" fill="#c0c0c0"/>
<rect x="493" y="558" width="3" height="1" fill="#c0c0c0"/>
<rect x="499" y="558" width="3" height="1" fill="#c0c0c0"/>
<rect x="505" y="558" width="3" height="1" fill="#c0c0c0"/>
<rect x="511" y="558" width="3" height="1" fill="#c0c0c0"/>
<rect x="517" y="558" width="3" height="1" fill="#c0c0c0"/>
<rect x="523" y="558" width="3" height="1" fill="#c0c0c0"/>
<rect x="529" y="558" width="3" height="1" fill="#c0c0c0"/>
<rect x="535" y="558" width="3" height="1" fill="#c0c0c0"/>
<rect x="541" y="558" width="3" height="1" fill="#c0c0c0"/>
<rect x="547" y="558" width="3" height="1" fill="#c0c0c0"/>
<rect x="553" y="558" width="3" height="1" fill="#c0c0c0"/>
<rect x="559" y="558" width="3" height="1" fill="#c0c0c0"/>
<rect x="565" y="558" width="3" height="1" fill="#c0c0c0"/>
<rect x="571" y="558" width="3" height="1" fill="#c0c0c0"/>
<rect x="577" y="558" width="3" height="1" fill="#c0c0c0"/>
<rect x="583" y="558" width="3" height="1" fill="#c0c0c0"/>
<rect x="589" y="558" width="3" height="1" fill="#c0c0c0"/>
<rect x="595" y="558" width="3" height="1" fill="#c0c0c0"/>
<rect x="601" y="558" width="3" height="1" fill="#c0c0c0"/>
<rect x="607" y="558" width="3" height="1" fill="#c0c0c0"/>
<rect x="613" y="558" width="3" height="1" fill="#c0c0c0"/>
<rect x="619" y="558" width="3" height="1" fill="#c0c0c0"/>
<rect x="625" y="558" width="3" height="1" fill="#c0c0c0"/>
<rect x="631" y="558" width="3" height="1" fill="#c0c0c0"/>
<rect x="637" y="558" width="3" height="1" fill="#c0c0c0"/>
<rect x="643" y="558" width="3" height="1" fill="#c0c0c0"/>
<rect x="649" y="558" width="3" height="1" fill="#c0c0c0"/>
<rect x="655" y="558" width="3" height="1" fill="#c0c0c0"/>
<rect x="661" y="558" width="3" height="1" fill="#c0c0c0"/>
<rect x="667" y="558" width="3" height="1" fill="#c0c0c0"/>
<rect x="673" y="558" width="3" height="1" fill="#c0c0c0"/>
<rect x="679" y="558" width="3" height="1" fill="#c0c0c0"/>
<rect x="685" y="558" width="3" height="1" fill="#c0c0c0"/>
<rect x="691" y="558" width="3" height="1" fill="#c0c0c0"/>
<rect x="697" y="558" width="3" height="1" fill="#c0c0c0"/>
<rect x="703" y="558" width="3" height="1" fill="#c0c0c0"/>
<rect x="709" y="558" width="3" height="1" fill="#c0c0c0"/>
<rect x="715" y="558" width="3" height="1" fill="#c0c0c0"/>
<rect x="721" y="558" width="3" height="1" fill="#c0c0c0"/>
<rect x="727" y="558" width="3" height="1" fill="#c0c0c0"/>
<rect x="733" y="558" width="3" height="1" fill="#c0c0c0"/>
<rect x="739" y="558" width="3" height="1" fill="#c0c0c0"/>
<rect x="745" y="558" width="3" height="1" fill="#c0c0c0"/>
<rect x="751" y="558" width="3" height="1" fill="#c0c0c0"/>
<rect x="757" y="558" width="3" height="1" fill="#c0c0c0"/>
<rect x="763" y="558" width="3" height="1" fill="#c0c0c0"/>
<rect x="769" y="558" width="3" height="1" fill="#c0c0c0"/>
<rect x="775" y="558" width="3" height="1" fill="#c0c0c0"/>
<rect x="781" y="558" width="3" height="1" fill="#c0c0c0"/>
<rect x="787" y="558" width="3" height="1" fill="#c0c0c0"/>
<rect x="793" y="558" width="3" height="1" fill="#c0c0c0"/>
<rect x="799" y="558" width="3" height="1" fill="#c0c0c0"/>
<rect x="805" y="558" width="3" height="1" fill="#c0c0c0"/>
<rect x="811" y="558" width="3" height="1" fill="#c0c0c0"/>
<rect x="817" y="558" width="3" height="1" fill="#c0c0c0"/>
<rect x="823" y="558" width="3" height="1" fill="#c0c0c0"/>
<rect x="829" y="558" width="3" height="1" fill="#c0c0c0"/>
<rect x="835" y="558" width="3" height="1" fill="#c0c0c0"/>
<rect x="841" y="558" width="3" height="1" fill="#c0c0c0"/>
<rect x="847" y="558" width="3" height="1" fill="#c0c0c0"/>
<rect x="853" y="558" width="3" height="1" fill="#c0c0c0"/>
<rect x="859" y="558" width="3" height="1" fill="#c0c0c0"/>
<rect x="865" y="558" width="3" height="1" fill="#c0c0c0"/>
<rect x="871" y="558" width="3" height="1" fill="#c0c0c0"/>
<rect x="877" y="558" width="3" height="1" fill="#c0c0c0"/>
<rect x="883" y="558" width="3" height="1" fill="#c0c0c0"/>
<rect x="889" y="558" width="3" height="1" fill="#c0c0c0"/>
<rect x="895" y="558" width="3" height="1" fill="#c0c0c0"/>
<rect x="901" y="558" width="3" height="1" fill="#c0c0c0"/>
<rect x="907" y="558" width="3" height="1" fill="#c0c0c0"/>
<rect x="913" y="558" width="3" height="1" fill="#c0c0c0"/>
<rect x="919" y="558" width="3" height="1" fill="#c0c0c0"/>
<rect x="925" y="558" width="3" height="1" fill="#c0c0c0"/>
<rect x="931" y="558" width="3" height="1" fill="#c0c0c0"/>
<rect x="937" y="558" width="3" height="1" fill="#c0c0c0"/>
<rect x="943" y="558" width="3" height="1" fill="#c0c0c0"/>
<rect x="949" y="558" width="3" height="1" fill="#c0c0c0"/>
<rect x="955" y="558" width="3" height="1" fill="#c0c0c0"/>
<rect x="961" y="558" width="3" height="1" fill="#c0c0c0"/>
<rect x="967" y="558" width="3" height="1" fill="#c0c0c0"/>
<rect x="973" y="558" width="3" height="1" fill="#c0c0c0"/>
<rect x="979" y="558" width="3" height="1" fill="#c0c0c0"/>
<rect x="985" y="558" width="3" height="1" fill="#c0c0c0"/>
<rect x="991" y="558" width="3" height="1" fill="#c0c0c0"/>
<rect x="997" y="558" width="3" height="1" fill="#c0c0c0"/>
<rect x="1003" y="558" width="3" height="1" fill="#c0c0c0"/>
<rect x="1009" y="558" width="3" height="1" fill="#c0c0c0"/>
<rect x="1015" y="558" width="3" height="1" fill="#c0c0c0"/>
<rect x="1021" y="558" width="3" height="1" fill="#c0c0c0"/>
<rect x="1027" y="558" width="3" height="1" fill="#c0c0c0"/>
<rect x="1033" y="558" width="3" height="1" fill="#c0c0c0"/>
<rect x="1039" y="558" width="3" height="1" fill="#c0c0c0"/>
<rect x="1045" y="558" width="3" height="1" fill="#c0c0c0"/>
<rect x="1051" y="558" width="3" height="1" fill="#c0c0c0"/>
<rect x="1057" y="558" width="3" height="1" fill="#c0c0c0"/>
<rect x="1063" y="558" width="3" height="1" fill="#c0c0c0"/>
<rect x="1069" y="558" width="3" height="1" fill="#c0c0c0"/>
<rect x="1075" y="558" width="3" height="1" fill="#c0c0c0"/>
<rect x="1081" y="558" width="3" height="1" fill="#c0c0c0"/>
<rect x="1087" y="558" width="3" height="1" fill="#c0c0c0"/>
<rect x="1093" y="558" width="3" height="1" fill="#c0c0c0"/>
<rect x="1099" y="558" width="3" height="1" fill="#c0c0c0"/>
<rect x="1105" y="558" width="3" height="1" fill="#c0c0c0"/>
<rect x="1111" y="558" width="3" height="1" fill="#c0c0c0"/>
<rect x="1117" y="558" width="3" height="1" fill="#c0c0c0"/>
<rect x="1123" y="558" width="3" height="1" fill="#c0c0c0"/>
<rect x="1129" y="558" width="3" height="1" fill="#c0c0c0"/>
<rect x="1135" y="558" width="3" height="1" fill="#c0c0c0"/>
<rect x="1141" y="558" width="3" height="1" fill="#c0c0c0"/>
<rect x="1147" y="558" width="3" height="1" fill="#c0c0c0"/>
<rect x="1153" y="558" width="3" height="1" fill="#c0c0c0"/>
<rect x="7" y="589" width="3" height="1" fill="#c0c0c0"/>
<rect x="13" y="589" width="3" height="1" fill="#c0c0c0"/>
<rect x="19" y="589" width="3" height="1" fill="#c0c0c0"/>
<rect x="25" y="589" width="3" height="1" fill="#c0c0c0"/>
<rect x="31" y="589" width="3" height="1" fill="#c0c0c0"/>
<rect x="37" y="589" width="3" height="1" fill="#c0c0c0"/>
<rect x="43" y="589" width="3" height="1" fill="#c0c0c0"/>
<rect x="49" y="589" width="3" height="1" fill="#c0c0c0"/>
<rect x="55" y="589" width="3" height="1" fill="#c0c0c0"/>
<rect x="61" y="589" width="3" height="1" fill="#c0c0c0"/>
<rect x="67" y="589" width="3" height="1" fill="#c0c0c0"/>
<rect x="73" y="589" width="3" height="1" fill="#c0c0c0"/>
<rect x="79" y="589" width="3" height="1" fill="#c0c0c0"/>
<rect x="85" y="589" width="3" height="1" fill="#c0c0c0"/>
<rect x="91" y="589" width="3" height="1" fill="#c0c0c0"/>
<rect x="97" y="589" width="3" height="1" fill="#c0c0c0"/>
<rect x="103" y="589" width="3" height="1" fill="#c0c0c0"/>
<rect x="109" y="589" width="3" height="1" fill="#c0c0c0"/>
<rect x="115" y="589" width="3" height="1" fill="#c0c0c0"/>
<rect x="121" y="589" width="3" height="1" fill="#c0c0c0"/>
<rect x="127" y="589" width="3" height="1" fill="#c0c0c0"/>
<rect x="133" y="589" width="3" height="1" fill="#c0c0c0"/>
<rect x="139" y="589" width="3" height="1" fill="#c0c0c0"/>
<rect x="145" y="589" width="3" height="1" fill="#c0c0c0"/>
<rect x="151" y="589" width="3" height="1" fill="#c0c0c0"/>
<rect x="157" y="589" width="3" height="1" fill="#c0c0c0"/>
<rect x="163" y="589" width="3" height="1" fill="#c0c0c0"/>
<rect x="169" y="589" width="3" height="1" fill="#c0c0c0"/>
<rect x="175" y="589" width="3" height="1" fill="#c0c0c0"/>
<rect x="181" y="589" width="3" height="1" fill="#c0c0c0"/>
<rect x="187" y="589" width="3" height="1" fill="#c0c0c0"/>
<rect x="193" y="589" width="3" height="1" fill="#c0c0c0"/>
<rect x="199" y="589" width="3" height="1" fill="#c0c0c0"/>
<rect x="205" y="589" width="3" height="1" fill="#c0c0c0"/>
<rect x="211" y="589" width="3" height="1" fill="#c0c0c0"/>
<rect x="217" y="589" width="3" height="1" fill="#c0c0c0"/>
<rect x="223" y="589" width="3" height="1" fill="#c0c0c0"/>
<rect x="229" y="589" width="3" height="1" fill="#c0c0c0"/>
<rect x="235" y="589" width="3" height="1" fill="#c0c0c0"/>
<rect x="241" y="589" width="3" height="1" fill="#c0c0c0"/>
<rect x="247" y="589" width="3" height="1" fill="#c0c0c0"/>
<rect x="253" y="589" width="3" height="1" fill="#c0c0c0"/>
<rect x="259" y="589" width="3" height="1" fill="#c0c0c0"/>
<rect x="265" y="589" width="3" height="1" fill="#c0c0c0"/>
<rect x="271" y="589" width="3" height="1" fill="#c0c0c0"/>
<rect x="277" y="589" width="3" height="1" fill="#c0c0c0"/>
<rect x="283" y="589" width="3" height="1" fill="#c0c0c0"/>
<rect x="289" y="589" width="3" height="1" fill="#c0c0c0"/>
<rect x="295" y="589" width="3" height="1" fill="#c0c0c0"/>
<rect x="301" y="589" width="3" height="1" fill="#c0c0c0"/>
<rect x="307" y="589" width="3" height="1" fill="#c0c0c0"/>
<rect x="313" y="589" width="3" height="1" fill="#c0c0c0"/>
<rect x="319" y="589" width="3" height="1" fill="#c0c0c0"/>
<rect x="325" y="589" width="3" height="1" fill="#c0c0c0"/>
<rect x="331" y="589" width="3" height="1" fill="#c0c0c0"/>
<rect x="337" y="589" width="3" height="1" fill="#c0c0c0"/>
<rect x="343" y="589" width="3" height="1" fill="#c0c0c0"/>
<rect x="349" y="589" width="3" height="1" fill="#c0c0c0"/>
<rect x="355" y="589" width="3" height="1" fill="#c0c0c0"/>
<rect x="361" y="589" width="3" height="1" fill="#c0c0c0"/>
<rect x="367" y="589" width="3" height="1" fill="#c0c0c0"/>
<rect x="373" y="589" width="3" height="1" fill="#c0c0c0"/>
<rect x="379" y="589" width="3" height="1" fill="#c0c0c0"/>
<rect x="385" y="589" width="3" height="1" fill="#c0c0c0"/>
<rect x="391" y="589" width="3" height="1" fill="#c0c0c0"/>
<rect x="397" y="589" width="3" height="1" fill="#c0c0c0"/>
<rect x="403" y="589" width="3" height="1" fill="#c0c0c0"/>
<rect x="409" y="589" width="3" height="1" fill="#c0c0c0"/>
<rect x="415" y="589" width="3" height="1" fill="#c0c0c0"/>
<rect x="421" y="589" width="3" height="1" fill="#c0c0c0"/>
<rect x="427" y="589" width="3" height="1" fill="#c0c0c0"/>
<rect x="433" y="589" width="3" height="1" fill="#c0c0c0"/>
<rect x="439" y="589" width="3" height="1" fill="#c0c0c0"/>
<rect x="445" y="589" width="3" height="1" fill="#c0c0c0"/>
<rect x="451" y="589" width="3" height="1" fill="#c0c0c0"/>
<rect x="457" y="589" width="3" height="1" fill="#c0c0c0"/>
<rect x="463" y="589" width="3" height="1" fill="#c0c0c0"/>
<rect x="469" y="589" width="3" height="1" fill="#c0c0c0"/>
<rect x="475" y="589" width="3" height="1" fill="#c0c0c0"/>
<rect x="481" y="589" width="3" height="1" fill="#c0c0c0"/>
<rect x="487" y="589" width="3" height="1" fill="#c0c0c0"/>
<rect x="493" y="589" width="3" height="1" fill="#c0c0c0"/>
<rect x="499" y="589" width="3" height="1" fill="#c0c0c0"/>
<rect x="505" y="589" width="3" height="1" fill="#c0c0c0"/>
<rect x="511" y="589" width="3" height="1" fill="#c0c0c0"/>
<rect x="517" y="589" width="3" height="1" fill="#c0c0c0"/>
<rect x="523" y="589" width="3" height="1" fill="#c0c0c0"/>
<rect x="529" y="589" width="3" height="1" fill="#c0c0c0"/>
<rect x="535" y="589" width="3" height="1" fill="#c0c0c0"/>
<rect x="541" y="589" width="3" height="1" fill="#c0c0c0"/>
<rect x="547" y="589" width="3" height="1" fill="#c0c0c0"/>
<rect x="553" y="589" width="3" height="1" fill="#c0c0c0"/>
<rect x="559" y="589" width="3" height="1" fill="#c0c0c0"/>
<rect x="565" y="589" width="3" height="1" fill="#c0c0c0"/>
<rect x="571" y="589" width="3" height="1" fill="#c0c0c0"/>
<rect x="577" y="589" width="3" height="1" fill="#c0c0c0"/>
<rect x="583" y="589" width="3" height="1" fill="#c0c0c0"/>
<rect x="589" y="589" width="3" height="1" fill="#c0c0c0"/>
<rect x="595" y="589" width="3" height="1" fill="#c0c0c0"/>
<rect x="601" y="589" width="3" height="1" fill="#c0c0c0"/>
<rect x="607" y="589" width="3" height="1" fill="#c0c0c0"/>
<rect x="613" y="589" width="3" height="1" fill="#c0c0c0"/>
<rect x="619" y="589" width="3" height="1" fill="#c0c0c0"/>
<rect x="625" y="589" width="3" height="1" fill="#c0c0c0"/>
<rect x="631" y="589" width="3" height="1" fill="#c0c0c0"/>
<rect x="637" y="589" width="3" height="1" fill="#c0c0c0"/>
<rect x="643" y="589" width="3" height="1" fill="#c0c0c0"/>
<rect x="649" y="589" width="3" height="1" fill="#c0c0c0"/>
<rect x="655" y="589" width="3" height="1" fill="#c0c0c0"/>
<rect x="661" y="589" width="3" height="1" fill="#c0c0c0"/>
<rect x="667" y="589" width="3" height="1" fill="#c0c0c0"/>
<rect x="673" y="589" width="3" height="1" fill="#c0c0c0"/>
<rect x="679" y="589" width="3" height="1" fill="#c0c0c0"/>
<rect x="685" y="589" width="3" height="1" fill="#c0c0c0"/>
<rect x="691" y="589" width="3" height="1" fill="#c0c0c0"/>
<rect x="697" y="589" width="3" height="1" fill="#c0c0c0"/>
<rect x="703" y="589" width="3" height="1" fill="#c0c0c0"/>
<rect x="709" y="589" width="3" height="1" fill="#c0c0c0"/>
<rect x="715" y="589" width="3" height="1" fill="#c0c0c0"/>
<rect x="721" y="589" width="3" height="1" fill="#c0c0c0"/>
<rect x="727" y="589" width="3" height="1" fill="#c0c0c0"/>
<rect x="733" y="589" width="3" height="1" fill="#c0c0c0"/>
<rect x="739" y="589" width="3" height="1" fill="#c0c0c0"/>
<rect x="745" y="589" width="3" height="1" fill="#c0c0c0"/>
<rect x="751" y="589" width="3" height="1" fill="#c0c0c0"/>
<rect x="757" y="589" width="3" height="1" fill="#c0c0c0"/>
<rect x="763" y="589" width="3" height="1" fill="#c0c0c0"/>
<rect x="769" y="589" width="3" height="1" fill="#c0c0c0"/>
<rect x="775" y="589" width="3" height="1" fill="#c0c0c0"/>
<rect x="781" y="589" width="3" height="1" fill="#c0c0c0"/>
<rect x="787" y="589" width="3" height="1" fill="#c0c0c0"/>
<rect x="793" y="589" width="3" height="1" fill="#c0c0c0"/>
<rect x="799" y="589" width="3" height="1" fill="#c0c0c0"/>
<rect x="805" y="589" width="3" height="1" fill="#c0c0c0"/>
<rect x="811" y="589" width="3" height="1" fill="#c0c0c0"/>
<rect x="817" y="589" width="3" height="1" fill="#c0c0c0"/>
<rect x="823" y="589" width="3" height="1" fill="#c0c0c0"/>
<rect x="829" y="589" width="3" height="1" fill="#c0c0c0"/>
<rect x="835" y="589" width="3" height="1" fill="#c0c0c0"/>
<rect x="841" y="589" width="3" height="1" fill="#c0c0c0"/>
<rect x="847" y="589" width="3" height="1" fill="#c0c0c0"/>
<rect x="853" y="589" width="3" height="1" fill="#c0c0c0"/>
<rect x="859" y="589" width="3" height="1" fill="#c0c0c0"/>
<rect x="865" y="589" width="3" height="1" fill="#c0c0c0"/>
<rect x="871" y="589" width="3" height="1" fill="#c0c0c0"/>
<rect x="877" y="589" width="3" height="1" fill="#c0c0c0"/>
<rect x="883" y="589" width="3" height="1" fill="#c0c0c0"/>
<rect x="889" y="589" width="3" height="1" fill="#c0c0c0"/>
<rect x="895" y="589" width="3" height="1" fill="#c0c0c0"/>
<rect x="901" y="589" width="3" height="1" fill="#c0c0c0"/>
<rect x="907" y="589" width="3" height="1" fill="#c0c0c0"/>
<rect x="913" y="589" width="3" height="1" fill="#c0c0c0"/>
<rect x="919" y="589" width="3" height="1" fill="#c0c0c0"/>
<rect x="925" y="589" width="3" height="1" fill="#c0c0c0"/>
<rect x="931" y="589" width="3" height="1" fill="#c0c0c0"/>
<rect x="937" y="589" width="3" height="1" fill="#c0c0c0"/>
<rect x="943" y="589" width="3" height="1" fill="#c0c0c0"/>
<rect x="949" y="589" width="3" height="1" fill="#c0c0c0"/>
<rect x="955" y="589" width="3" height="1" fill="#c0c0c0"/>
<rect x="961" y="589" width="3" height="1" fill="#c0c0c0"/>
<rect x="967" y="589" width="3" height="1" fill="#c0c0c0"/>
<rect x="973" y="589" width="3" height="1" fill="#c0c0c0"/>
<rect x="979" y="589" width="3" height="1" fill="#c0c0c0"/>
<rect x="985" y="589" width="3" height="1" fill="#c0c0c0"/>
<rect x="991" y="589" width="3" height="1" fill="#c0c0c0"/>
<rect x="997" y="589" width="3" height="1" fill="#c0c0c0"/>
<rect x="1003" y="589" width="3" height="1" fill="#c0c0c0"/>
<rect x="1009" y="589" width="3" height="1" fill="#c0c0c0"/>
<rect x="1015" y="589" width="3" height="1" fill="#c0c0c0"/>
<rect x="1021" y="589" width="3" height="1" fill="#c0c0c0"/>
<rect x="1027" y="589" width="3" height="1" fill="#c0c0c0"/>
<rect x="1033" y="589" width="3" height="1" fill="#c0c0c0"/>
<rect x="1039" y="589" width="3" height="1" fill="#c0c0c0"/>
<rect x="1045" y="589" width="3" height="1" fill="#c0c0c0"/>
<rect x="1051" y="589" width="3" height="1" fill="#c0c0c0"/>
<rect x="1057" y="589" width="3" height="1" fill="#c0c0c0"/>
<rect x="1063" y="589" width="3" height="1" fill="#c0c0c0"/>
<rect x="1069" y="589" width="3" height="1" fill="#c0c0c0"/>
<rect x="1075" y="589" width="3" height="1" fill="#c0c0c0"/>
<rect x="1081" y="589" width="3" height="1" fill="#c0c0c0"/>
<rect x="1087" y="589" width="3" height="1" fill="#c0c0c0"/>
<rect x="1093" y="589" width="3" height="1" fill="#c0c0c0"/>
<rect x="1099" y="589" width="3" height="1" fill="#c0c0c0"/>
<rect x="1105" y="589" width="3" height="1" fill="#c0c0c0"/>
<rect x="1111" y="589" width="3" height="1" fill="#c0c0c0"/>
<rect x="1117" y="589" width="3" height="1" fill="#c0c0c0"/>
<rect x="1123" y="589" width="3" height="1" fill="#c0c0c0"/>
<rect x="1129" y="589" width="3" height="1" fill="#c0c0c0"/>
<rect x="1135" y="589" width="3" height="1" fill="#c0c0c0"/>
<rect x="1141" y="589" width="3" height="1" fill="#c0c0c0"/>
<rect x="1147" y="589" width="3" height="1" fill="#c0c0c0"/>
<rect x="1153" y="589" width="3" height="1" fill="#c0c0c0"/>
<polyline points="6.50,577.50 14.50,576.30 22.50,573.50 30.50,573.50 38.50,578.00 46.50,582.50 54.50,580.25 62.50,580.25 70.50,584.40 78.50,582.25 86.50,589.10 94.50,589.40 102.50,588.50 110.50,584.40 118.50,585.80 126.50,588.00 134.50,590.25 142.50,581.25 150.50,583.50 158.50,582.25 166.50,580.60 174.50,578.10 182.50,572.50 190.50,575.60 198.50,582.25 206.50,583.50 214.50,588.50 222.50,585.00 230.50,582.50 238.50,581.25 246.50,574.50 254.50,572.50 262.50,569.40 270.50,573.10 278.50,574.40 286.50,573.10 294.50,578.10 302.50,579.40 310.50,578.40 318.50,582.25 326.50,583.50 334.50,573.50 342.50,577.50 350.50,578.40 358.50,575.40 366.50,575.40 374.50,576.50 382.50,572.50 390.50,571.25 398.50,569.40 406.50,573.50 414.50,577.50 422.50,574.40 430.50,575.60 438.50,579.50 446.50,578.10 454.50,575.00 462.50,572.75 470.50,568.10 478.50,569.40 486.50,569.40 494.50,573.50 502.50,570.25 510.50,571.25 518.50,570.25 526.50,571.25 534.50,568.10 542.50,567.25 550.50,568.10 558.50,565.25 566.50,577.50 574.50,573.50 582.50,572.50 590.50,573.50 598.50,567.25 606.50,570.60 614.50,566.25 622.50,564.40 630.50,569.40 638.50,570.25 646.50,570.25 654.50,571.50 662.50,576.60 670.50,578.40 678.50,579.40 686.50,579.40 694.50,579.40 702.50,580.40 710.50,577.25 718.50,580.60 726.50,575.00 734.50,572.25 742.50,570.50 750.50,572.25 758.50,571.25 766.50,566.50 774.50,567.25 782.50,568.50 790.50,572.75 798.50,576.00 806.50,578.75 814.50,581.50 822.50,583.25 830.50,584.60 838.50,588.10 846.50,584.40 854.50,585.40 862.50,586.20 870.50,587.50 878.50,583.50 886.50,580.25 894.50,577.00 902.50,574.40 910.50,576.50" fill="none" stroke="#1e90ff" stroke-width="1" clip-path="url(#cr)"/>
<rect x="1157" y="535" width="1" height="1" fill="#000"/>
<rect x="1157" y="612" width="1" height="1" fill="#000"/>
<rect x="6" y="614" width="1" height="3" fill="#000"/>
<rect x="70" y="614" width="1" height="3" fill="#000"/>
<rect x="134" y="614" width="1" height="3" fill="#000"/>
<rect x="198" y="614" width="1" height="3" fill="#000"/>
<rect x="262" y="614" width="1" height="3" fill="#000"/>
<rect x="326" y="614" width="1" height="3" fill="#000"/>
<rect x="390" y="614" width="1" height="3" fill="#000"/>
<rect x="454" y="614" width="1" height="3" fill="#000"/>
<rect x="518" y="614" width="1" height="3" fill="#000"/>
<rect x="582" y="614" width="1" height="3" fill="#000"/>
<rect x="646" y="614" width="1" height="3" fill="#000"/>
<rect x="710" y="614" width="1" height="3" fill="#000"/>
<rect x="774" y="614" width="1" height="3" fill="#000"/>
<rect x="838" y="614" width="1" height="3" fill="#000"/>
<rect x="902" y="614" width="1" height="3" fill="#000"/>
<rect x="0" y="634" width="1200" height="1" fill="#e3e3e3"/>
<rect x="0" y="635" width="1200" height="1" fill="#ffffff"/>
<rect x="0" y="636" width="1200" height="1" fill="#000000"/>
<rect x="0" y="637" width="1200" height="18" fill="#f0f0f0"/>
<rect x="1" y="637" width="1" height="19" fill="#a0a0a0"/>
<rect x="2" y="637" width="1" height="19" fill="#696969"/>
<rect x="111" y="637" width="1" height="17" fill="#ffffff"/>
<rect x="111" y="637" width="1089" height="1" fill="#ffffff"/>
<rect x="0" y="655" width="1200" height="1" fill="#f0f0f0"/>
<rect x="0" y="656" width="1200" height="1" fill="#fafafa"/>
<rect x="0" y="657" width="1200" height="3" fill="#f0f0f0"/>
<rect x="8" y="636" width="102" height="18" fill="#ffffff"/>
<rect x="7" y="636" width="1" height="19" fill="#000"/>
<rect x="110" y="636" width="1" height="19" fill="#000"/>
<rect x="7" y="654" width="104" height="1" fill="#000"/>
<rect x="215" y="640" width="1" height="13" fill="#808080"/>
<rect x="315" y="640" width="1" height="13" fill="#808080"/>
<rect x="419" y="640" width="1" height="13" fill="#808080"/>
<rect x="539" y="640" width="1" height="13" fill="#808080"/>
<rect x="651" y="640" width="1" height="13" fill="#808080"/>
<rect x="747" y="640" width="1" height="13" fill="#808080"/>
<rect x="851" y="640" width="1" height="13" fill="#808080"/>
<rect x="939" y="640" width="1" height="13" fill="#808080"/>
<rect x="1042" y="640" width="1" height="13" fill="#808080"/>
<rect x="1111" y="640" width="1" height="13" fill="#808080"/>
<rect x="1168" y="637" width="32" height="18" fill="#f0f0f0"/>
<path d="M1175,642 L1175,648 L1171.8,645 Z" fill="#909090" shape-rendering="auto"/>
<path d="M1191,642 L1191,648 L1194.4,645 Z" fill="#000" shape-rendering="auto"/>
<text x="4.99" y="19" font-size="10" fill="#3a3a3a" textLength="18.55" lengthAdjust="spacingAndGlyphs" >M30</text>
<text x="36.45" y="19" font-size="10" fill="#3a3a3a" textLength="11.75" lengthAdjust="spacingAndGlyphs" >H1</text>
<text x="63.45" y="19" font-size="10" fill="#3a3a3a" textLength="12.7" lengthAdjust="spacingAndGlyphs" >H4</text>
<text x="91.82" y="19" font-size="10" fill="#3a3a3a" textLength="12.38" lengthAdjust="spacingAndGlyphs" >D1</text>
<text x="119.5" y="19" font-size="10" fill="#3a3a3a" textLength="14.7" lengthAdjust="spacingAndGlyphs" >W1</text>
<text x="145.82" y="19" font-size="10" fill="#3a3a3a" textLength="15.72" lengthAdjust="spacingAndGlyphs" >MN</text>
<text x="20.6" y="43" font-size="10" fill="#000" stroke="#000" stroke-width="0.1" textLength="63.7" lengthAdjust="spacingAndGlyphs" >EURUSD,Daily</text>
<text x="90.78" y="43" font-size="10" fill="#000" stroke="#000" stroke-width="0.1" textLength="141.0" lengthAdjust="spacingAndGlyphs" >1.13486 1.13703 1.13317 1.13354</text>
<text x="1161.6" y="57" font-size="10" fill="#000" stroke="#000" stroke-width="0.1" textLength="33.0" lengthAdjust="spacingAndGlyphs" >1.16200</text>
<text x="1161.6" y="90" font-size="10" fill="#000" stroke="#000" stroke-width="0.1" textLength="33.0" lengthAdjust="spacingAndGlyphs" >1.15850</text>
<text x="1161.6" y="123" font-size="10" fill="#000" stroke="#000" stroke-width="0.1" textLength="33.0" lengthAdjust="spacingAndGlyphs" >1.15510</text>
<text x="1161.6" y="156" font-size="10" fill="#000" stroke="#000" stroke-width="0.1" textLength="33.0" lengthAdjust="spacingAndGlyphs" >1.15160</text>
<text x="1161.6" y="189" font-size="10" fill="#000" stroke="#000" stroke-width="0.1" textLength="33.0" lengthAdjust="spacingAndGlyphs" >1.14820</text>
<text x="1161.6" y="222" font-size="10" fill="#000" stroke="#000" stroke-width="0.1" textLength="33.0" lengthAdjust="spacingAndGlyphs" >1.14480</text>
<text x="1161.6" y="255" font-size="10" fill="#000" stroke="#000" stroke-width="0.1" textLength="33.0" lengthAdjust="spacingAndGlyphs" >1.14130</text>
<text x="1161.6" y="288" font-size="10" fill="#000" stroke="#000" stroke-width="0.1" textLength="33.0" lengthAdjust="spacingAndGlyphs" >1.13790</text>
<text x="1161.6" y="321" font-size="10" fill="#000" stroke="#000" stroke-width="0.1" textLength="33.0" lengthAdjust="spacingAndGlyphs" >1.13440</text>
<text x="1161.6" y="354" font-size="10" fill="#000" stroke="#000" stroke-width="0.1" textLength="33.0" lengthAdjust="spacingAndGlyphs" >1.13100</text>
<text x="1161.6" y="387" font-size="10" fill="#000" stroke="#000" stroke-width="0.1" textLength="33.0" lengthAdjust="spacingAndGlyphs" >1.12750</text>
<text x="1161.6" y="420" font-size="10" fill="#000" stroke="#000" stroke-width="0.1" textLength="33.0" lengthAdjust="spacingAndGlyphs" >1.12410</text>
<text x="1161.6" y="453" font-size="10" fill="#000" stroke="#000" stroke-width="0.1" textLength="33.0" lengthAdjust="spacingAndGlyphs" >1.12070</text>
<text x="1161.6" y="330" font-size="10" fill="#fff" stroke="#fff" stroke-width="0.1" textLength="33.9" lengthAdjust="spacingAndGlyphs" >1.13354</text>
<text x="10.16" y="467" font-size="10" fill="#000" stroke="#000" stroke-width="0.1" textLength="153.2" lengthAdjust="spacingAndGlyphs" >MACD(12,26,9) -0.002322 -0.003049</text>
<text x="1160.0" y="465" font-size="10" fill="#000" stroke="#000" stroke-width="0.1" textLength="38.5" lengthAdjust="spacingAndGlyphs" >0.003216</text>
<text x="1160.0" y="484" font-size="10" fill="#000" stroke="#000" stroke-width="0.1" textLength="18.08" lengthAdjust="spacingAndGlyphs" >0.00</text>
<text x="1160.0" y="528" font-size="10" fill="#000" stroke="#000" stroke-width="0.1" textLength="44.2" lengthAdjust="spacingAndGlyphs" >-0.006485</text>
<text x="10.16" y="546" font-size="10" fill="#000" stroke="#000" stroke-width="0.1" textLength="67.44" lengthAdjust="spacingAndGlyphs" >RSI(14) 47.2464</text>
<text x="1160.16" y="544" font-size="10" fill="#000" stroke="#000" stroke-width="0.1" textLength="14.86" lengthAdjust="spacingAndGlyphs" >100</text>
<text x="1158.38" y="562" font-size="10" fill="#000" stroke="#000" stroke-width="0.1" textLength="10.82" lengthAdjust="spacingAndGlyphs" >70</text>
<text x="1159.18" y="593" font-size="10" fill="#000" stroke="#000" stroke-width="0.1" textLength="10.02" lengthAdjust="spacingAndGlyphs" >30</text>
<text x="1160.0" y="610" font-size="10" fill="#000" stroke="#000" stroke-width="0.1" textLength="5.5" lengthAdjust="spacingAndGlyphs" >0</text>
<text x="4.9" y="626" font-size="10" fill="#000" stroke="#000" stroke-width="0.1" textLength="51.42" lengthAdjust="spacingAndGlyphs" >12 Oct 2018</text>
<text x="68.68" y="626" font-size="10" fill="#000" stroke="#000" stroke-width="0.1" textLength="51.3" lengthAdjust="spacingAndGlyphs" >22 Oct 2018</text>
<text x="132.12" y="626" font-size="10" fill="#000" stroke="#000" stroke-width="0.1" textLength="51.3" lengthAdjust="spacingAndGlyphs" >31 Oct 2018</text>
<text x="196.8" y="626" font-size="10" fill="#000" stroke="#000" stroke-width="0.1" textLength="49.3" lengthAdjust="spacingAndGlyphs" >9 Nov 2018</text>
<text x="261.0" y="626" font-size="10" fill="#000" stroke="#000" stroke-width="0.1" textLength="54.05" lengthAdjust="spacingAndGlyphs" >19 Nov 2018</text>
<text x="324.95" y="626" font-size="10" fill="#000" stroke="#000" stroke-width="0.1" textLength="54.2" lengthAdjust="spacingAndGlyphs" >28 Nov 2018</text>
<text x="388.85" y="626" font-size="10" fill="#000" stroke="#000" stroke-width="0.1" textLength="47.25" lengthAdjust="spacingAndGlyphs" >7 Dec 2018</text>
<text x="452.95" y="626" font-size="10" fill="#000" stroke="#000" stroke-width="0.1" textLength="52.25" lengthAdjust="spacingAndGlyphs" >17 Dec 2018</text>
<text x="516.9" y="626" font-size="10" fill="#000" stroke="#000" stroke-width="0.1" textLength="52.25" lengthAdjust="spacingAndGlyphs" >26 Dec 2018</text>
<text x="580.85" y="626" font-size="10" fill="#000" stroke="#000" stroke-width="0.1" textLength="44.45" lengthAdjust="spacingAndGlyphs" >4 Jan 2019</text>
<text x="645.85" y="626" font-size="10" fill="#000" stroke="#000" stroke-width="0.1" textLength="49.35" lengthAdjust="spacingAndGlyphs" >14 Jan 2019</text>
<text x="708.9" y="626" font-size="10" fill="#000" stroke="#000" stroke-width="0.1" textLength="50.25" lengthAdjust="spacingAndGlyphs" >23 Jan 2019</text>
<text x="772.95" y="626" font-size="10" fill="#000" stroke="#000" stroke-width="0.1" textLength="47.15" lengthAdjust="spacingAndGlyphs" >1 Feb 2019</text>
<text x="836.9" y="626" font-size="10" fill="#000" stroke="#000" stroke-width="0.1" textLength="52.25" lengthAdjust="spacingAndGlyphs" >11 Feb 2019</text>
<text x="900.85" y="626" font-size="10" fill="#000" stroke="#000" stroke-width="0.1" textLength="52.35" lengthAdjust="spacingAndGlyphs" >20 Feb 2019</text>
<text x="19.1" y="651" font-size="12.5" fill="#111111" textLength="79.2" lengthAdjust="spacingAndGlyphs" >EURUSD,Daily</text>
<text x="122.0" y="651" font-size="12.5" fill="#666666" textLength="82.2" lengthAdjust="spacingAndGlyphs" >AUDUSD,Daily</text>
<text x="224.2" y="651" font-size="12.5" fill="#666666" textLength="80.0" lengthAdjust="spacingAndGlyphs" >USDCHF,Daily</text>
<text x="325.2" y="651" font-size="12.5" fill="#666666" textLength="82.0" lengthAdjust="spacingAndGlyphs" >USDCAD,Daily</text>
<text x="429.2" y="651" font-size="12.5" fill="#666666" textLength="97.44" lengthAdjust="spacingAndGlyphs" >USDCNH,Weekly</text>
<text x="549.2" y="651" font-size="12.5" fill="#666666" textLength="90.0" lengthAdjust="spacingAndGlyphs" >USDJPY,Weekly</text>
<text x="662.1" y="651" font-size="12.5" fill="#666666" textLength="71.88" lengthAdjust="spacingAndGlyphs" >XAUUSD,M1</text>
<text x="759.0" y="651" font-size="12.5" fill="#666666" textLength="80.2" lengthAdjust="spacingAndGlyphs" >GBPUSD,Daily</text>
<text x="863.0" y="651" font-size="12.5" fill="#666666" textLength="64.2" lengthAdjust="spacingAndGlyphs" >SP500,M15</text>
<text x="951.1" y="651" font-size="12.5" fill="#666666" textLength="80.1" lengthAdjust="spacingAndGlyphs" >GBPUSD,Daily</text>
<text x="1052.2" y="651" font-size="12.5" fill="#666666" textLength="47.0" lengthAdjust="spacingAndGlyphs" >DJ30,H4</text>
<text x="1121.0" y="651" font-size="12.5" fill="#666666" textLength="45.2" lengthAdjust="spacingAndGlyphs" >TECH10</text>
</svg></body></html>
